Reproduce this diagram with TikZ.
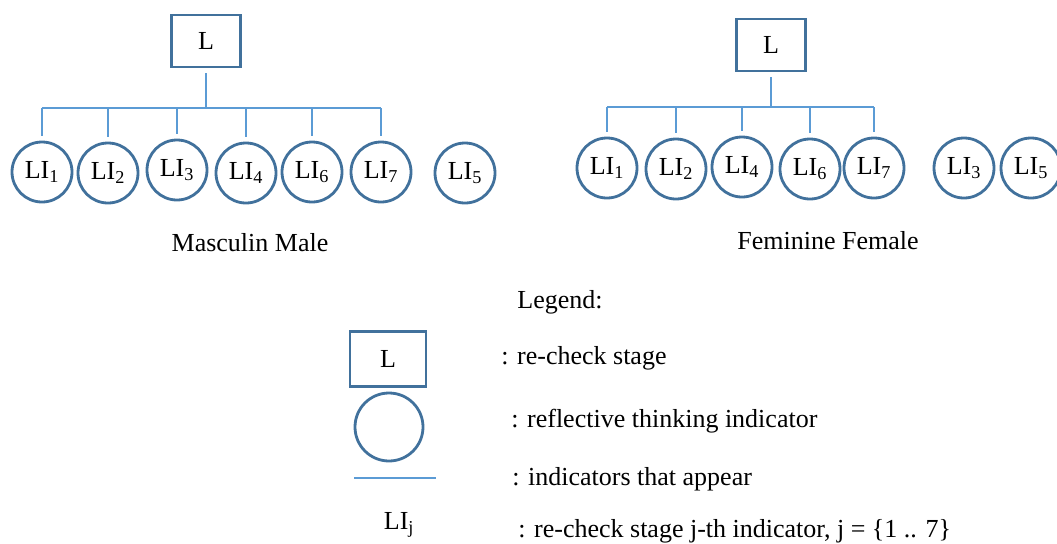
\documentclass[tikz,border=0pt]{standalone}
\usepackage{fontspec}
\setmainfont{Liberation Serif}
\usetikzlibrary{positioning}
\definecolor{boxblue}{HTML}{41719C}
\definecolor{linkblue}{HTML}{5B9BD5}
\tikzset{
  stage/.style={draw=boxblue,line width=2.2pt,minimum width=51.75pt,minimum height=39pt,inner sep=0pt},
  indic/.style={draw=boxblue,line width=2.1pt,circle,minimum size=45pt,inner sep=0pt},
  link/.style={draw=linkblue,line width=2.1pt},
  lbl/.style={inner sep=0pt,anchor=west}
}
\newcommand{\li}[1]{LI\textsubscript{#1}}
\begin{document}
\begin{tikzpicture}[x=0.75pt,y=-0.75pt,font=\fontsize{19.5}{23}\selectfont]
	\useasboundingbox (0,0) rectangle (1057,543);
	% masculin male
	\node[stage] (mL) at (206,41) {L};
	\node[indic] (m1) at (42,172) {\li{1}};
	\node[indic] (m2) at (108,173) {\li{2}};
	\node[indic] (m3) at (177,170) {\li{3}};
	\node[indic] (m4) at (246,173) {\li{4}};
	\node[indic] (m6) at (312,172) {\li{6}};
	\node[indic] (m7) at (381,172) {\li{7}};
	\node[indic] (m5) at (465,173) {\li{5}};
	\coordinate (mbar) at (0,108);
	\draw[link] ([yshift=-3.75pt]mL.south) -- (mL.south |- mbar);
	\draw[link] (m1.north |- mbar) -- (m7.north |- mbar);
	\foreach \i in {1,2,3,4,6,7}
		\draw[link] (m\i.north |- mbar) -- ([yshift=3.75pt]m\i.north);
	\node (mname) at (250,243) {Masculin Male};
	% feminine female
	\node[stage] (fL) at (771,45) {L};
	\node[indic] (f1) at (607,168) {\li{1}};
	\node[indic] (f2) at (676,169) {\li{2}};
	\node[indic] (f4) at (742,167) {\li{4}};
	\node[indic] (f6) at (810,169) {\li{6}};
	\node[indic] (f7) at (874,168) {\li{7}};
	\node[indic] (f3) at (964,168) {\li{3}};
	\node[indic] (f5) at (1031,168) {\li{5}};
	\coordinate (fbar) at (0,107);
	\draw[link] ([yshift=-3.75pt]fL.south) -- (fL.south |- fbar);
	\draw[link] (f1.north |- fbar) -- (f7.north |- fbar);
	\foreach \i in {1,2,4,6,7}
		\draw[link] (f\i.north |- fbar) -- ([yshift=3.75pt]f\i.north);
	\node (fname) at (828,241) {Feminine Female};
	% legend
	\node (legend) at (560,302) {Legend:};
	\node[stage,minimum width=57pt,minimum height=41pt] (gL) at (388,359) {L};
	\node[lbl] (tL) at (501,358) {: re-check stage};
	\node[indic,minimum size=51pt] (gC) at (389,427) {};
	\node[lbl] (tC) at (511,421) {: reflective thinking indicator};
	\coordinate (gA) at (354,478);
	\coordinate (gB) at (436,478);
	\draw[link] (gA) -- (gB);
	\node[lbl] (tA) at (512,479) {: indicators that appear};
	\node (gJ) at (399,525) {LI\textsubscript{j}};
	\node[lbl] (tJ) at (518,531) {: re-check stage j-th indicator, j = \{1 .. 7\}};
\end{tikzpicture}
\end{document}
